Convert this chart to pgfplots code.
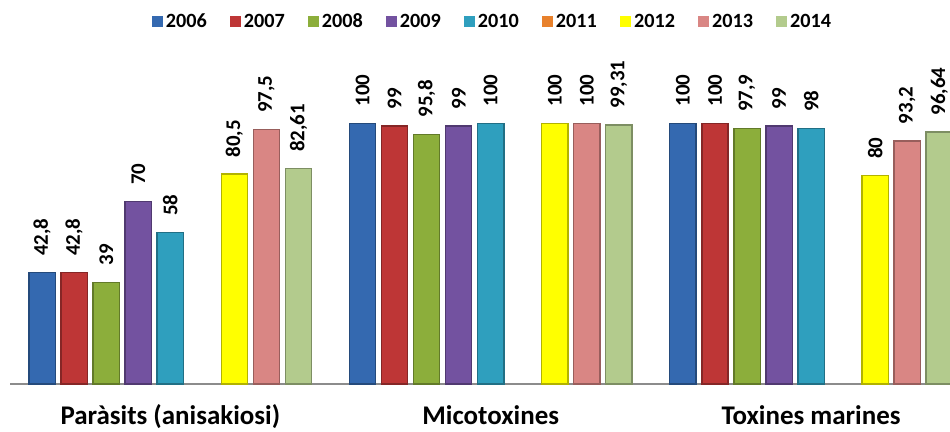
\documentclass[border=0pt]{standalone}
\usepackage{fontspec}
\setmainfont{Carlito}
\usepackage{graphicx}
\usepackage{pgfplots}
\pgfplotsset{compat=1.18}

\definecolor{c06}{HTML}{3469B0}
\definecolor{c07}{HTML}{BE3636}
\definecolor{c08}{HTML}{8CAE3B}
\definecolor{c09}{HTML}{7352A0}
\definecolor{c10}{HTML}{2F9FBE}
\definecolor{c11}{HTML}{E8812C}
\definecolor{c12}{HTML}{FFFF00}
\definecolor{c13}{HTML}{D98684}
\definecolor{c14}{HTML}{B3CB8D}
\definecolor{axisgray}{HTML}{8C8C8C}

% one category = 237.77pt, one slot = 23.78pt
\pgfplotsset{
  yb/.style 2 args={ybar, bar width=19.5pt, bar shift=#2, line width=1pt,
    fill=#1, draw=#1!70!black,
    every node near coord/.append style={xshift=#2},
    legend image code/.code={\fill[##1, draw=none] (0pt,-4pt) rectangle (8.5pt,4.5pt);}},
}
\newcommand{\vlab}[1]{\fontsize{15.5}{17}\selectfont\bfseries\rotatebox{90}{#1}}

\begin{document}
\begin{tikzpicture}
\begin{axis}[
  scale only axis, width=705pt, height=241.875pt,
  xmin=-0.5, xmax=2.465, ymin=0, ymax=125,
  axis x line*=bottom, axis y line=none,
  x axis line style={-, draw=axisgray, line width=1.1pt},
  xtick={0,1,2},
  xticklabels={Paràsits (anisakiosi), Micotoxines, Toxines marines},
  major tick length=0pt,
  xticklabel style={font=\fontsize{20}{22}\selectfont\bfseries, anchor=base, yshift=-30pt},
  point meta=explicit symbolic,
  nodes near coords={\vlab{\pgfplotspointmeta}},
  every node near coord/.append style={anchor=south, inner ysep=12pt, inner xsep=0pt},
  legend style={at={(0.508,1.112)}, anchor=center, draw=none, fill=none,
    legend columns=9, font=\fontsize{15}{17}\selectfont\bfseries,
    /tikz/every even column/.append style={column sep=15pt}},
  clip=false,
]
\addplot[yb={c06}{-95.11pt}] coordinates {(0,42.8) [42,8] (1,100) [100] (2,100) [100]};
\addplot[yb={c07}{-71.33pt}] coordinates {(0,42.8) [42,8] (1,99) [99] (2,100) [100]};
\addplot[yb={c08}{-47.55pt}] coordinates {(0,39) [39] (1,95.8) [95,8] (2,97.9) [97,9]};
\addplot[yb={c09}{-23.78pt}] coordinates {(0,70) [70] (1,99) [99] (2,99) [99]};
\addplot[yb={c10}{0pt}] coordinates {(0,58) [58] (1,100) [100] (2,98) [98]};
\addlegendimage{yb={c11}{0pt}}
\addplot[yb={c12}{47.55pt}] coordinates {(0,80.5) [80,5] (1,100) [100] (2,80) [80]};
\addplot[yb={c13}{71.33pt}] coordinates {(0,97.5) [97,5] (1,100) [100] (2,93.2) [93,2]};
\addplot[yb={c14}{95.11pt}] coordinates {(0,82.61) [82,61] (1,99.31) [99,31] (2,96.64) [96,64]};
\legend{2006,2007,2008,2009,2010,2011,2012,2013,2014}
\end{axis}
\pgfresetboundingbox
\useasboundingbox (-7.5pt,-35.25pt) rectangle (697.5pt,285pt);
\end{tikzpicture}
\end{document}
